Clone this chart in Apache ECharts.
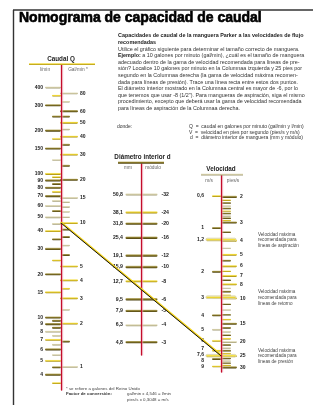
<!DOCTYPE html>
<html>
<head>
<meta charset="utf-8">
<script src="https://cdn.jsdelivr.net/npm/echarts@6.0.0/dist/echarts.min.js"></script>
<style>
html, body { margin: 0; padding: 0; background: #fff; }
#main { width: 313px; height: 405px; }
</style>
</head>
<body>
<div id="main"></div>
<script>
// Caudal Q: l/min a la izquierda, gal/min (UK) a la derecha
var qLitreMajor = [400, 300, 200, 150, 100, 90, 80, 70, 60, 50, 40, 30, 20, 15, 10, 9, 8, 7, 6, 5, 4];
var qLitreMinor = [350, 250, 175, 125, 95, 85, 75, 65, 55, 45, 35, 25, 9.5, 8.5, 7.5, 6.5, 5.5, 4.5, 3.5];
var qGalMajor = [80, 60, 50, 40, 30, 20, 15, 10, 5, 4, 3, 2, 1];
var qGalMinor = [70, 55, 45, 35, 25, 14, 13, 12, 11, 9, 8, 7, 6, 3.5, 2.5, 1.5];

// Diámetro interior d: mm y módulo
var dMm = [50.8, 38.1, 31.8, 25.4, 19.1, 15.9, 12.7, 9.5, 7.9, 6.3, 4.8];
var dMmLabels = ['50,8', '38,1', '31,8', '25,4', '19,1', '15,9', '12,7', '9,5', '7,9', '6,3', '4,8'];
var dDashLabels = ['-32', '-24', '-20', '-16', '-12', '-10', '-8', '-6', '-5', '-4', '-3'];

// Velocidad: m/s a la izquierda, pies/s a la derecha
var vMs = [0.6, 1, 1.2, 2, 3, 4, 5, 6, 7, 7.6, 8, 9];
var vMsLabels = ['0,6', '1', '1,2', '2', '3', '4', '5', '6', '7', '7,6', '8', '9'];
var vFtMajor = [2, 3, 4, 5, 6, 7, 8, 10, 15, 20, 25, 30];
var vFtMinor = [2.1, 2.2, 2.3, 2.4, 2.5, 2.6, 2.7, 2.8, 2.9, 3.5, 4.5, 5.5, 6.5, 7.5, 8.5, 9, 9.5,
    11, 12, 13, 14, 16, 17, 18, 19, 21, 22, 23, 24, 26, 27, 28, 29];
var vRecMs = [1.2, 3, 7.6];
var vRecNotes = ['líneas de aspiración', 'líneas de retorno', 'líneas de presión'];

// ejemplo del texto: 10 gal/min y 25 pies/s
var exampleGal = 10;
var exampleFt = 25;

var GAL_TO_L = 4.546;
var FT_TO_M = 0.3048;

var textLines = [
    'Utilice el gráfico siguiente para determinar el tamaño correcto de manguera.',
    '{b|Ejemplo:} a 10 galones por minuto (gal/min), ¿cuál es el tamaño de manguera',
    'adecuado dentro de la gama de velocidad recomendada para líneas de pre-',
    'sión? Localice 10 galones por minuto en la Columnaa izquierda y 25 pies por',
    'segundo en la Columnaa derecha (la gama de velocidad máxima recomen-',
    'dada para líneas de presión). Trace una línea recta entre estos dos puntos.',
    'El diámetro interior mostrado en la Columnaa central es mayor de -6, por lo',
    'que tenemos que usar -8 (1/2"). Para mangueras de aspiración, siga el mismo',
    'procedimiento, excepto que deberá usar la gama de velocidad recomendada',
    'para líneas de aspiración de la Columnaa derecha.'
];

var FONT = '"Liberation Sans", Arial, sans-serif';
var RED = '#c40d2b';
var SHADES = {
    y: ['#fffbd6', '#eed433', '#9c850f'],
    d: ['#c9bf86', '#857526', '#4a4010'],
    p: ['#ffffff', '#dcd6b0', '#a09a74'],
    h: ['#ffffff', '#f7e23c', '#c6a812']
};

function grad(k) {
    var c = SHADES[k];
    return new echarts.graphic.LinearGradient(0, 0, 0, 1, [
        {offset: 0, color: c[0]}, {offset: 0.45, color: c[1]}, {offset: 1, color: c[2]}
    ]);
}

// separa etiquetas muy juntas
function spread(ys, gap) {
    var out = ys.slice();
    var idx = ys.map(function (y, i) { return i; }).sort(function (a, b) { return ys[a] - ys[b]; });
    for (var n = 0; n < 40; n++) {
        for (var k = 1; k < idx.length; k++) {
            var a = idx[k - 1], b = idx[k];
            var d = out[b] - out[a];
            if (d < gap) { out[a] -= (gap - d) / 2; out[b] += (gap - d) / 2; }
        }
    }
    return out;
}

function label(text, x, y, align, fs) {
    return {type: 'text', style: {text: text, x: x, y: y, align: align, verticalAlign: 'middle',
        fontFamily: FONT, fontWeight: 'bold', fontSize: fs || 5, fill: '#222'}};
}

//marcas de una escala
function ticks(axis, values, k, o) {
    return {
        type: 'custom', xAxisIndex: axis, yAxisIndex: axis, silent: true, z: 3, clip: false,
        data: values.map(function (v, i) { return [0, v * k, i]; }),
        encode: {x: 0, y: 1},
        renderItem: function (params, api) {
            var i = api.value(2);
            var p = api.coord([0, api.value(1)]);
            var kids = [{
                type: 'rect',
                shape: {x: p[0] + o.from, y: p[1] - o.h / 2, width: o.to - o.from, height: o.h, r: o.h / 2},
                style: {fill: grad(o.shade.charAt(i % o.shade.length)), stroke: o.stroke || null, lineWidth: 0.6}
            }];
            var ly = p[1];
            if (o.gap) {
                var ys = values.map(function (v) { return api.coord([0, v * k])[1]; });
                ly = spread(ys, o.gap)[i];
            }
            if (o.labels) kids.push(label(o.labels[i], p[0] + o.lx, ly, o.lx < 0 ? 'right' : 'left', o.fs));
            if (o.labels2) kids.push(label(o.labels2[i], p[0] + o.lx2, ly, 'left', o.fs));
            if (o.notes) {
                kids.push({type: 'text', style: {
                    text: 'Velocidad máxima\nrecomendada para\n' + o.notes[i],
                    x: p[0] + 37, y: p[1] + 0.5, align: 'left', verticalAlign: 'middle',
                    fontFamily: FONT, fontSize: 4.6, lineHeight: 5.7, fill: '#444'}});
            }
            return {type: 'group', children: kids};
        }
    };
}

function axisY(min, max, inverse) {
    return {
        type: 'log', logBase: 10, min: min, max: max, inverse: !!inverse, z: 5,
        axisLine: {show: true, lineStyle: {color: RED, width: 1.3, shadowColor: 'rgba(240,175,190,0.55)', shadowOffsetX: 1.1}},
        axisTick: {show: false}, axisLabel: {show: false}, splitLine: {show: false}
    };
}

function axisX() {
    return {type: 'value', min: 0, max: 1, show: false};
}

function txt(text, x, y, o) {
    o = o || {};
    return {
        type: 'text', z: 10, silent: true,
        style: {text: text, x: x, y: y, align: o.align || 'left', verticalAlign: 'middle',
            fontFamily: FONT, fontSize: o.fs || 5, fontWeight: o.bold ? 'bold' : 'normal',
            fill: o.color || '#333', rich: o.rich}
    };
}

function bar(x1, x2, y, shade) {
    return {type: 'rect', z: 10, silent: true,
        shape: {x: x1, y: y - 1.1, width: x2 - x1, height: 2.2}, style: {fill: grad(shade)}};
}

function buildOption(extra) {
    var g = [
        {type: 'line', silent: true, shape: {x1: 13, y1: 10, x2: 313, y2: 10}, style: {stroke: '#333', lineWidth: 1.4}},
        {type: 'line', silent: true, shape: {x1: 13.5, y1: 10, x2: 13.5, y2: 405}, style: {stroke: '#333', lineWidth: 1.4}},
        {type: 'text', silent: true, style: {text: 'Nomograma de capacidad de caudal', x: 19, y: 18, verticalAlign: 'middle',
            fontFamily: FONT, fontWeight: 'bold', fontSize: 14, fill: '#000', stroke: '#000', lineWidth: 0.6}},
        txt('Capacidades de caudal de la manguera Parker a las velocidades de flujo', 118, 36, {bold: true, fs: 5.4, color: '#222'}),
        txt('recomendadas', 118, 42.6, {bold: true, fs: 5.4, color: '#222'}),
        txt('donde:', 117, 127),
        txt('Q  =  caudal en galones por minuto (gal/min y l/min)', 189, 127),
        txt('V  =  velocidad en pies por segundo (pies/s y m/s)', 189, 132.4),
        txt('d  =  diámetro interior de manguera (mm y módulo)', 190, 137.8),
        // cabeceras
        txt('Caudal Q', 61, 59, {bold: true, fs: 6.3, align: 'center', color: '#222'}),
        bar(29, 95, 64, 'y'),
        txt('l/min', 45, 70, {align: 'center', fs: 4.8, color: '#666'}),
        txt('Gal/min *', 78, 70, {align: 'center', fs: 4.8, color: '#666'}),
        txt('Diámetro interior d', 142.5, 157.5, {bold: true, fs: 6.3, align: 'center', color: '#222'}),
        bar(118, 164, 162.6, 'd'),
        txt('mm', 128, 168, {align: 'center', fs: 4.8, color: '#666'}),
        txt('módulo', 153, 168, {align: 'center', fs: 4.8, color: '#666'}),
        txt('Velocidad', 221, 169, {bold: true, fs: 6.3, align: 'center', color: '#222'}),
        bar(201, 243, 174.3, 'p'),
        txt('m/s', 209, 181, {align: 'center', fs: 4.8, color: '#666'}),
        txt('pies/s', 233, 181, {align: 'center', fs: 4.8, color: '#666'}),
        // pie
        txt('* se refiere a galones del Reino Unido', 66, 389, {fs: 4.4, color: '#444'}),
        txt('Factor de conversión:', 66, 394, {fs: 4.4, bold: true, color: '#333'}),
        txt('gal/min x 4,546 = l/min', 127, 394, {fs: 4.4, color: '#444'}),
        txt('pies/s x 0,3048 = m/s', 127, 399.3, {fs: 4.4, color: '#444'})
    ];
    textLines.forEach(function (t, i) {
        g.push(txt(t, 118, 49.2 + i * 6.6, {fs: 5.4, color: '#333', rich: {b: {fontWeight: 'bold', fontSize: 5.4, fontFamily: FONT, fill: '#222'}}}));
    });
    if (extra) g = g.concat(extra);

    return {
        animation: false,
        backgroundColor: '#fff',
        grid: [
            {left: 61, width: 1, top: 65, height: 325},
            {left: 141.5, width: 1, top: 164, height: 191},
            {left: 221, width: 1, top: 175, height: 197}
        ],
        xAxis: [axisX(), axisX(), axisX()].map(function (a, i) { a.gridIndex = i; return a; }),
        yAxis: [axisY(3.13, 571.6), axisY(3.907, 82.3), axisY(0.43, 9.843, true)].map(function (a, i) { a.gridIndex = i; return a; }),
        graphic: {elements: g},
        series: [
            ticks(0, qLitreMajor, 1, {from: -16, to: 0, h: 2.2, shade: 'pdddydddppyddyddpydyd', labels: qLitreMajor.map(String), lx: -18}),
            ticks(0, qLitreMinor, 1, {from: -9, to: 0, h: 2, shade: 'ydypydypdpdyddpppdy'}),
            ticks(0, qGalMajor, GAL_TO_L, {from: -1, to: 17, h: 2.2, shade: 'pdyyydpyyyyyp', labels: qGalMajor.map(String), lx: 19}),
            ticks(0, qGalMinor, GAL_TO_L, {from: 0, to: 9, h: 2, shade: 'pdpddppppddpdypd'}),
            ticks(1, dMm, 1, {from: -16, to: 16, h: 2.4, shade: 'pyddddyddpd', labels: dMmLabels, lx: -18.5, labels2: dDashLabels, lx2: 20, fs: 5.2}),
            ticks(2, vMs, 1, {from: -9, to: 0, h: 2, shade: 'ydydydpyyydy', labels: vMsLabels, lx: -17, gap: 6}),
            ticks(2, vFtMajor, FT_TO_M, {from: 0, to: 16, h: 2.2, shade: 'ddyyyyyydpyd', labels: vFtMajor.map(String), lx: 19}),
            ticks(2, vFtMinor, FT_TO_M, {from: 0, to: 10, h: 1.7, shade: 'ydpd'}),
            ticks(2, vRecMs, 1, {from: -15, to: 15, h: 2.6, shade: 'h', stroke: '#d9d4a8', notes: vRecNotes})
        ]
    };
}

var myChart = echarts.init(document.getElementById('main'), null, {renderer: 'canvas'});
myChart.setOption(buildOption());

// línea del ejemplo, de un eje al otro
var a = myChart.convertToPixel({gridIndex: 0}, [0, exampleGal * GAL_TO_L]);
var b = myChart.convertToPixel({gridIndex: 2}, [0, exampleFt * FT_TO_M]);
myChart.setOption(buildOption([
    {type: 'line', z: 20, silent: true, shape: {x1: a[0], y1: a[1] - 0.9, x2: b[0], y2: b[1] - 0.9},
        style: {stroke: '#f2d21a', lineWidth: 1.8}},
    {type: 'line', z: 21, silent: true, shape: {x1: a[0], y1: a[1], x2: b[0], y2: b[1]},
        style: {stroke: '#111', lineWidth: 1}}
]), true);
</script>
</body>
</html>
